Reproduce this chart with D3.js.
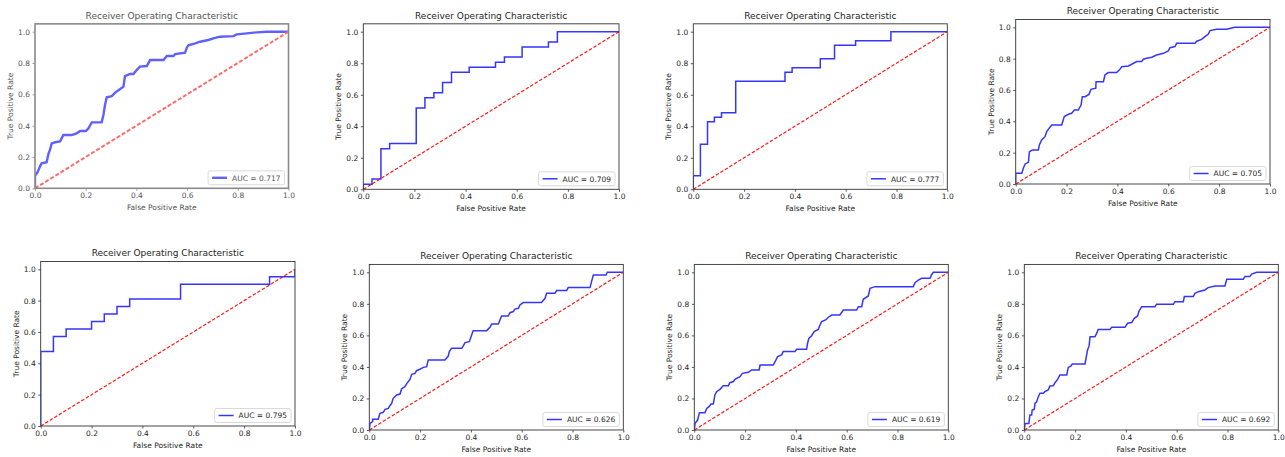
<!DOCTYPE html>
<html><head><meta charset="utf-8">
<script src="https://cdn.jsdelivr.net/npm/d3@7"></script>
<style>body{margin:0;background:#fff}svg{display:block}text{font-family:"DejaVu Sans",sans-serif}</style>
</head><body><svg id="c" width="1285" height="457"></svg>
<script>
const titleText = "Receiver Operating Characteristic";
const xLabelText = "False Positive Rate";
const yLabelText = "True Positive Rate";
const tickValues = [0, 0.2, 0.4, 0.6, 0.8, 1.0];
const aucValues = ["0.717", "0.709", "0.777", "0.705", "0.795", "0.626", "0.619", "0.692"];

const fpr1 = [0,0,0.009,0.020,0.026,0.046,0.053,0.059,0.066,0.079,0.099,0.112,0.145,0.164,0.178,0.201,0.211,0.224,0.263,0.270,0.276,0.283,0.303,0.316,0.336,0.349,0.355,0.375,0.388,0.401,0.414,0.441,0.454,0.507,0.520,0.546,0.553,0.592,0.599,0.605,0.632,0.651,0.684,0.704,0.730,0.783,0.796,0.836,0.875,0.914,1];
const tpr1 = [0,0.08,0.10,0.14,0.16,0.166,0.22,0.245,0.287,0.294,0.30,0.34,0.34,0.35,0.366,0.366,0.383,0.421,0.421,0.468,0.532,0.581,0.589,0.611,0.634,0.649,0.717,0.73,0.73,0.755,0.777,0.781,0.819,0.819,0.845,0.845,0.857,0.866,0.898,0.913,0.926,0.936,0.947,0.957,0.968,0.972,0.983,0.989,0.996,1.0,1];

const fpr2 = [0,0,0.034,0.034,0.069,0.069,0.103,0.103,0.207,0.207,0.241,0.241,0.276,0.276,0.310,0.310,0.345,0.345,0.414,0.414,0.517,0.517,0.552,0.552,0.621,0.621,0.724,0.724,0.759,0.759,1];
const tpr2 = [0,0.032,0.032,0.065,0.065,0.258,0.258,0.290,0.290,0.516,0.516,0.581,0.581,0.613,0.613,0.677,0.677,0.742,0.742,0.774,0.774,0.806,0.806,0.839,0.839,0.903,0.903,0.935,0.935,1,1];

const fpr3 = [0,0,0.028,0.028,0.056,0.056,0.083,0.083,0.111,0.111,0.167,0.167,0.361,0.361,0.389,0.389,0.5,0.5,0.556,0.556,0.639,0.639,0.778,0.778,1];
const tpr3 = [0,0.086,0.086,0.286,0.286,0.429,0.429,0.457,0.457,0.486,0.486,0.686,0.686,0.743,0.743,0.771,0.771,0.829,0.829,0.914,0.914,0.943,0.943,1,1];

const fpr4 = [0,0,0.024,0.030,0.037,0.050,0.054,0.066,0.089,0.093,0.102,0.115,0.122,0.131,0.142,0.181,0.191,0.207,0.220,0.231,0.246,0.257,0.262,0.273,0.288,0.296,0.315,0.316,0.345,0.351,0.364,0.397,0.410,0.417,0.443,0.456,0.476,0.495,0.502,0.515,0.535,0.554,0.581,0.600,0.607,0.626,0.633,0.705,0.712,0.731,0.744,0.757,0.764,0.790,0.830,0.849,0.862,1];
const tpr4 = [0,0.068,0.068,0.10,0.128,0.138,0.206,0.217,0.217,0.249,0.281,0.302,0.334,0.355,0.377,0.377,0.430,0.445,0.451,0.472,0.472,0.504,0.557,0.557,0.572,0.604,0.611,0.653,0.653,0.696,0.711,0.711,0.732,0.749,0.753,0.764,0.781,0.781,0.796,0.802,0.809,0.823,0.834,0.849,0.870,0.877,0.898,0.898,0.911,0.923,0.940,0.955,0.979,0.987,0.987,0.996,1.0,1];

const fpr5 = [0,0,0.05,0.05,0.1,0.1,0.2,0.2,0.25,0.25,0.3,0.3,0.35,0.35,0.55,0.55,0.9,0.9,1,1];
const tpr5 = [0,0.476,0.476,0.571,0.571,0.619,0.619,0.667,0.667,0.714,0.714,0.762,0.762,0.810,0.810,0.905,0.905,0.952,0.952,1];

const fpr6 = [0,0.003,0.013,0.013,0.035,0.042,0.055,0.062,0.075,0.081,0.088,0.094,0.108,0.121,0.127,0.140,0.150,0.160,0.167,0.180,0.186,0.199,0.213,0.226,0.232,0.298,0.311,0.315,0.324,0.364,0.370,0.377,0.394,0.403,0.409,0.462,0.475,0.482,0.508,0.521,0.547,0.554,0.567,0.573,0.587,0.593,0.606,0.678,0.692,0.698,0.731,0.738,0.777,0.783,0.869,0.875,0.882,0.932,0.937,1];
const tpr6 = [0,0.042,0.053,0.068,0.068,0.106,0.112,0.131,0.137,0.154,0.169,0.201,0.222,0.228,0.260,0.275,0.300,0.321,0.353,0.359,0.376,0.385,0.397,0.402,0.444,0.444,0.469,0.497,0.518,0.518,0.533,0.554,0.560,0.603,0.630,0.630,0.651,0.672,0.672,0.723,0.723,0.744,0.751,0.767,0.772,0.793,0.808,0.808,0.835,0.867,0.867,0.884,0.884,0.903,0.903,0.941,0.983,0.983,1.0,1];

const fpr7 = [0,0.003,0.013,0.020,0.042,0.049,0.058,0.066,0.075,0.081,0.088,0.101,0.114,0.134,0.140,0.154,0.160,0.180,0.189,0.213,0.226,0.255,0.259,0.311,0.318,0.328,0.344,0.350,0.396,0.403,0.442,0.446,0.451,0.462,0.472,0.488,0.495,0.501,0.517,0.528,0.541,0.573,0.587,0.639,0.646,0.659,0.665,0.685,0.692,0.711,0.862,0.869,0.882,0.895,0.928,0.934,0.941,1];
const tpr7 = [0,0.042,0.063,0.110,0.110,0.137,0.148,0.165,0.165,0.222,0.243,0.258,0.281,0.281,0.300,0.307,0.321,0.338,0.359,0.366,0.381,0.381,0.412,0.412,0.433,0.465,0.476,0.497,0.497,0.512,0.512,0.550,0.581,0.598,0.624,0.638,0.666,0.687,0.698,0.715,0.729,0.729,0.761,0.761,0.782,0.782,0.829,0.850,0.899,0.909,0.909,0.934,0.951,0.962,0.962,0.983,1.0,1];

const fpr8 = [0,0.003,0.018,0.022,0.029,0.031,0.039,0.042,0.049,0.055,0.062,0.075,0.081,0.094,0.101,0.114,0.121,0.131,0.140,0.167,0.173,0.184,0.189,0.239,0.243,0.249,0.255,0.259,0.278,0.285,0.291,0.337,0.344,0.396,0.407,0.423,0.433,0.446,0.451,0.462,0.514,0.521,0.587,0.593,0.626,0.630,0.665,0.672,0.685,0.711,0.724,0.751,0.790,0.797,0.862,0.869,0.888,0.895,0.915,1];
const tpr8 = [0,0.042,0.042,0.095,0.095,0.127,0.131,0.169,0.180,0.211,0.233,0.233,0.243,0.254,0.279,0.281,0.300,0.321,0.349,0.349,0.397,0.406,0.419,0.419,0.455,0.507,0.533,0.592,0.592,0.613,0.638,0.638,0.651,0.651,0.677,0.681,0.708,0.723,0.751,0.782,0.782,0.797,0.797,0.814,0.814,0.846,0.846,0.867,0.877,0.888,0.903,0.913,0.913,0.956,0.956,0.973,0.973,0.989,1.0,1];

const fprList = [fpr1, fpr2, fpr3, fpr4, fpr5, fpr6, fpr7, fpr8];
const tprList = [tpr1, tpr2, tpr3, tpr4, tpr5, tpr6, tpr7, tpr8];

// panel placement (pixel layout): left, right, y of 0, y of 1
const layout = [
  {l: 35,     r: 288.5,  y0: 188.3, y1: 31.7,  soft: true},
  {l: 363.3,  r: 619,    y0: 189.3, y1: 31.7},
  {l: 693.3,  r: 947.3,  y0: 189.3, y1: 31.7},
  {l: 1015.7, r: 1270,   y0: 184,   y1: 27.3},
  {l: 40.7,   r: 295,    y0: 426,   y1: 269.3},
  {l: 369.3,  r: 623.3,  y0: 430,   y1: 272.3},
  {l: 694.3,  r: 948.3,  y0: 430,   y1: 272.3},
  {l: 1024.3, r: 1278.3, y0: 430,   y1: 272.3}
];

const svg = d3.select("#c");
const fs = 7.5;

layout.forEach((p, i) => {
  const soft = !!p.soft;
  const txt = soft ? "#555" : "#262626";
  const frameCol = soft ? "#8a8a8a" : "#333";
  const x = d3.scaleLinear([0, 1], [p.l, p.r]);
  const y = d3.scaleLinear([0, 1], [p.y0, p.y1]);
  const top = y(1.05), bottom = y(0);
  const g = svg.append("g");

  const cid = "clip" + i;
  svg.append("clipPath").attr("id", cid).append("rect")
    .attr("x", p.l).attr("y", top).attr("width", p.r - p.l).attr("height", bottom - top);

  const data = d3.zip(fprList[i], tprList[i]);
  const line = d3.line().x(d => x(d[0])).y(d => y(d[1]));

  g.append("path").datum(data).attr("clip-path", `url(#${cid})`)
    .attr("d", line).attr("fill", "none")
    .attr("stroke", soft ? "#6060ff" : "#3535ff")
    .attr("stroke-width", soft ? 2.4 : 1.5)
    .attr("stroke-linejoin", "miter");

  g.append("path").datum([[0, 0], [1, 1]]).attr("clip-path", `url(#${cid})`)
    .attr("d", line).attr("fill", "none")
    .attr("stroke", soft ? "#ff6b6b" : "#ff1a1a")
    .attr("stroke-width", soft ? 2 : 1.2)
    .attr("stroke-dasharray", soft ? "4,2" : "3.5,1.8");

  // axes
  const xa = g.append("g").attr("transform", `translate(0,${bottom})`)
    .call(d3.axisBottom(x).tickValues(tickValues).tickFormat(d3.format(".1f")).tickSize(2.5).tickPadding(2).tickSizeOuter(0));
  const ya = g.append("g").attr("transform", `translate(${p.l},0)`)
    .call(d3.axisLeft(y).tickValues(tickValues).tickFormat(d3.format(".1f")).tickSize(2.5).tickPadding(2.5).tickSizeOuter(0));
  [xa, ya].forEach(a => {
    a.select(".domain").remove();
    a.selectAll("line").attr("stroke", frameCol).attr("stroke-width", 0.8);
    a.selectAll("text").attr("font-size", fs).attr("fill", txt).attr("font-family", '"DejaVu Sans",sans-serif');
  });

  // frame
  g.append("rect").attr("x", p.l).attr("y", top).attr("width", p.r - p.l).attr("height", bottom - top)
    .attr("fill", "none").attr("stroke", frameCol).attr("stroke-width", soft ? 1.6 : 0.9);

  // title and labels
  g.append("text").attr("x", (p.l + p.r) / 2).attr("y", top - 5).attr("text-anchor", "middle")
    .attr("font-size", 9).attr("fill", txt).text(titleText);
  g.append("text").attr("x", (p.l + p.r) / 2).attr("y", bottom + 21.5).attr("text-anchor", "middle")
    .attr("font-size", fs).attr("fill", txt).text(xLabelText);
  g.append("text").attr("transform", `translate(${p.l - 22},${(top + bottom) / 2}) rotate(-90)`)
    .attr("text-anchor", "middle").attr("font-size", fs).attr("fill", txt).text(yLabelText);

  // legend
  const lg = g.append("g");
  const box = lg.append("rect");
  const t = lg.append("text").attr("font-size", fs).attr("fill", txt).text("AUC = " + aucValues[i]);
  const tw = t.node().getComputedTextLength();
  const w = 4 + 15 + 5 + tw + 4, h = 14;
  const bx = p.r - 4 - w, by = bottom - 3.5 - h;
  box.attr("x", bx).attr("y", by).attr("width", w).attr("height", h).attr("rx", 2)
    .attr("fill", "#fff").attr("fill-opacity", 0.8).attr("stroke", "#d0d0d0").attr("stroke-width", 0.8);
  lg.append("line").attr("x1", bx + 4).attr("x2", bx + 19).attr("y1", by + h / 2).attr("y2", by + h / 2)
    .attr("stroke", soft ? "#6060ff" : "#3535ff").attr("stroke-width", soft ? 2.4 : 1.5);
  t.attr("x", bx + 24).attr("y", by + h / 2 + 2.7);
});
</script></body></html>
